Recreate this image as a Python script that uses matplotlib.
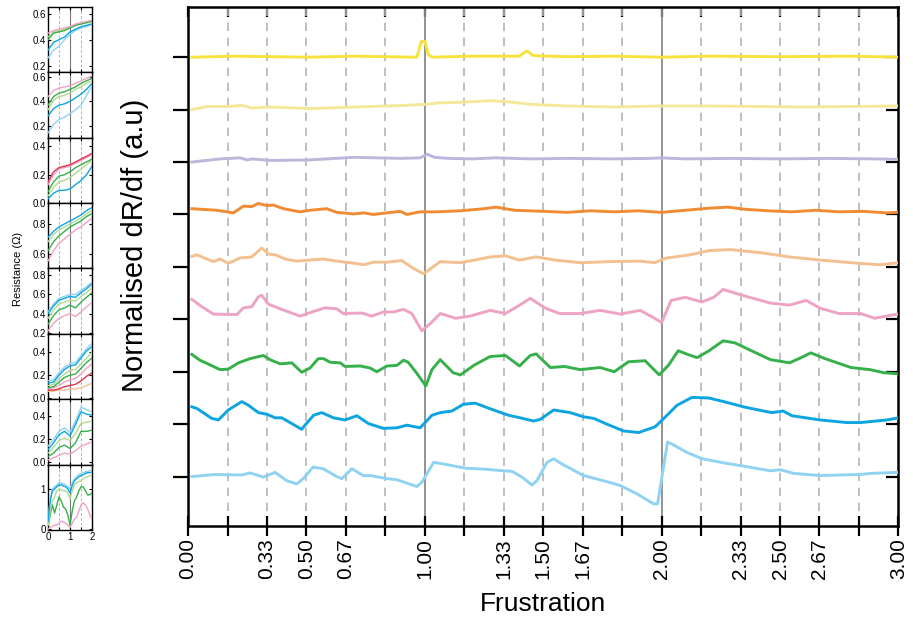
import matplotlib
matplotlib.use("Agg")
import matplotlib.pyplot as plt
import numpy as np

plt.rcParams['font.family'] = ['Liberation Sans', 'DejaVu Sans']

# ---- main panel data: (frustration, offset) keypoints, bottom trace first ----
lblue_f = [0.016, 0.114, 0.227, 0.262, 0.317, 0.368, 0.417, 0.459, 0.486, 0.528, 0.57, 0.628, 0.649, 0.692,
           0.739, 0.769, 0.84, 0.882, 0.966, 0.987, 1.037, 1.079, 1.17, 1.255, 1.332, 1.368, 1.41, 1.452, 1.473,
           1.516, 1.544, 1.579, 1.67, 1.755, 1.825, 1.896, 1.966, 1.983, 2.025, 2.044, 2.107, 2.171, 2.276,
           2.332, 2.459, 2.501, 2.558, 2.67, 2.839, 2.882, 3.0]
lblue_v = [0, 0.04, 0.03, 0.07, -0.01, 0.08, -0.08, -0.14, -0.04, 0.18, 0.15, 0, -0.04, 0.15,
           0.02, 0.02, -0.04, -0.06, -0.19, -0.11, 0.27, 0.24, 0.16, 0.14, 0.11, 0.10, -0.01, -0.16, -0.08,
           0.27, 0.34, 0.24, 0.02, -0.08, -0.17, -0.33, -0.52, -0.52, 0.66, 0.62, 0.46, 0.34, 0.25,
           0.21, 0.11, 0.13, 0.06, 0.02, 0.04, 0.06, 0.08]

blue_f = [0.016, 0.037, 0.1, 0.128, 0.17, 0.227, 0.255, 0.297, 0.332, 0.368, 0.396, 0.431, 0.48, 0.494, 0.53,
          0.565, 0.614, 0.663, 0.713, 0.762, 0.825, 0.882, 0.924, 0.98, 1.03, 1.065, 1.114, 1.163, 1.213, 1.29,
          1.353, 1.403, 1.459, 1.487, 1.544, 1.614, 1.67, 1.713, 1.769, 1.839, 1.903, 1.973, 2.023, 2.065,
          2.128, 2.198, 2.262, 2.346, 2.431, 2.466, 2.513, 2.551, 2.67, 2.783, 2.839, 2.952, 3.0]
blue_v = [0.33, 0.30, 0.11, 0.08, 0.27, 0.43, 0.36, 0.22, 0.19, 0.12, 0.12, 0.03, -0.10, -0.02, 0.17,
          0.22, 0.12, 0.08, 0.16, 0.01, -0.08, -0.07, -0.02, -0.07, 0.17, 0.22, 0.25, 0.38, 0.40, 0.27,
          0.17, 0.12, 0.06, 0.09, 0.27, 0.22, 0.14, 0.11, 0.0, -0.13, -0.16, -0.05, 0.17, 0.36,
          0.51, 0.50, 0.43, 0.33, 0.25, 0.22, 0.25, 0.16, 0.08, 0.03, 0.03, 0.08, 0.12]

green_f = [0.016, 0.05, 0.093, 0.135, 0.17, 0.213, 0.262, 0.318, 0.346, 0.389, 0.438, 0.48, 0.515, 0.55,
           0.572, 0.6, 0.642, 0.663, 0.727, 0.769, 0.797, 0.84, 0.882, 0.91, 0.93, 0.966, 1.004, 1.03, 1.065,
           1.12, 1.15, 1.21, 1.276, 1.34, 1.40, 1.445, 1.47, 1.53, 1.59, 1.656, 1.74, 1.8, 1.86, 1.93, 1.99,
           2.03, 2.07, 2.11, 2.15, 2.2, 2.26, 2.31, 2.37, 2.46, 2.54, 2.59, 2.63, 2.69, 2.8, 2.88, 2.94, 3.0]
green_v = [0.33, 0.22, 0.13, 0.04, 0.05, 0.17, 0.25, 0.31, 0.23, 0.15, 0.17, -0.01, 0.07, 0.25,
           0.25, 0.18, 0.17, 0.10, 0.11, 0.07, 0.0, 0.11, 0.12, 0.22, 0.18, -0.03, -0.27, 0.04, 0.23,
           -0.02, -0.06, 0.13, 0.29, 0.31, 0.11, 0.31, 0.34, 0.08, 0.10, 0.04, 0.08, 0.0, 0.19, 0.21, -0.06,
           0.13, 0.40, 0.33, 0.27, 0.40, 0.59, 0.55, 0.42, 0.23, 0.17, 0.27, 0.36, 0.25, 0.08, 0.04, -0.02, -0.04]

pink_f = [0.016, 0.058, 0.107, 0.206, 0.234, 0.269, 0.297, 0.311, 0.339, 0.389, 0.473, 0.53, 0.579, 0.628,
          0.656, 0.734, 0.776, 0.825, 0.868, 0.91, 0.945, 0.987, 1.023, 1.065, 1.13, 1.19, 1.276, 1.34, 1.40,
          1.445, 1.51, 1.57, 1.656, 1.74, 1.825, 1.91, 1.97, 2.0, 2.04, 2.1, 2.17, 2.22, 2.26, 2.31, 2.37,
          2.46, 2.54, 2.61, 2.67, 2.75, 2.84, 2.9, 2.97, 3.0]
pink_v = [0.38, 0.24, 0.10, 0.09, 0.22, 0.24, 0.43, 0.46, 0.29, 0.20, 0.06, 0.15, 0.22, 0.20,
          0.11, 0.12, 0.06, 0.14, 0.14, 0.19, 0.11, -0.22, -0.08, 0.11, 0.02, 0.06, 0.17, 0.11, 0.27,
          0.40, 0.21, 0.11, 0.11, 0.17, 0.10, 0.17, 0.02, -0.06, 0.36, 0.42, 0.33, 0.42, 0.57, 0.50, 0.42,
          0.31, 0.27, 0.36, 0.21, 0.11, 0.11, 0.02, 0.08, 0.10]

peach_f = [0.016, 0.037, 0.107, 0.135, 0.17, 0.22, 0.269, 0.311, 0.339, 0.375, 0.41, 0.459, 0.515, 0.572,
           0.628, 0.685, 0.741, 0.783, 0.84, 0.903, 0.952, 0.994, 1.023, 1.065, 1.15, 1.21, 1.276, 1.34, 1.40,
           1.47, 1.55, 1.656, 1.78, 1.91, 1.97, 2.02, 2.12, 2.2, 2.29, 2.42, 2.54, 2.67, 2.8, 2.92, 3.0]
peach_v = [0.20, 0.23, 0.10, 0.15, 0.07, 0.17, 0.19, 0.36, 0.25, 0.22, 0.15, 0.11, 0.13, 0.15,
           0.11, 0.08, 0.04, 0.09, 0.09, 0.12, -0.03, -0.13, -0.04, 0.10, 0.08, 0.13, 0.19, 0.21, 0.13,
           0.19, 0.13, 0.08, 0.10, 0.11, 0.08, 0.17, 0.23, 0.31, 0.33, 0.27, 0.19, 0.13, 0.08, 0.04, 0.08]

orange_f = [0.016, 0.121, 0.191, 0.234, 0.269, 0.297, 0.332, 0.36, 0.403, 0.473, 0.515, 0.586, 0.628, 0.699,
            0.741, 0.783, 0.896, 0.924, 0.98, 1.05, 1.15, 1.25, 1.3, 1.38, 1.5, 1.6, 1.7, 1.8, 1.9, 2.0,
            2.1, 2.2, 2.28, 2.35, 2.45, 2.55, 2.65, 2.75, 2.85, 2.95, 3.0]
orange_v = [0.11, 0.08, 0.03, 0.16, 0.15, 0.21, 0.17, 0.18, 0.11, 0.05, 0.08, 0.11, 0.04, 0.01,
            0.03, 0.0, 0.06, 0.0, 0.05, 0.05, 0.07, 0.11, 0.14, 0.08, 0.06, 0.04, 0.07, 0.05, 0.07, 0.04,
            0.08, 0.12, 0.14, 0.10, 0.07, 0.05, 0.08, 0.05, 0.06, 0.03, 0.04]

lav_f = [0.016, 0.135, 0.22, 0.25, 0.27, 0.347, 0.51, 0.7, 0.9, 0.98, 1.01, 1.04, 1.1, 1.2, 1.3, 1.45, 1.6,
         1.8, 1.95, 2.0, 2.1, 2.3, 2.5, 2.7, 2.9, 3.0]
lav_v = [0, 0.06, 0.08, 0.04, 0.06, 0.03, 0.04, 0.09, 0.07, 0.08, 0.15, 0.09, 0.07, 0.06, 0.08, 0.06, 0.07,
         0.06, 0.07, 0.08, 0.06, 0.07, 0.06, 0.07, 0.06, 0.05]

lyel_f = [0.016, 0.08, 0.17, 0.227, 0.27, 0.347, 0.517, 0.7, 0.91, 1.0, 1.06, 1.15, 1.28, 1.35, 1.45, 1.6,
          1.8, 2.0, 2.2, 2.4, 2.6, 2.8, 3.0]
lyel_v = [0, 0.06, 0.06, 0.08, 0.03, 0.05, 0.02, 0.05, 0.08, 0.10, 0.13, 0.14, 0.17, 0.15, 0.10, 0.07,
          0.05, 0.07, 0.07, 0.06, 0.05, 0.06, 0.07]

yel_f = [0.016, 0.2, 0.51, 0.7, 0.966, 0.985, 1.0, 1.015, 1.03, 1.2, 1.4, 1.43, 1.46, 1.6, 1.8, 2.0, 2.2,
         2.5, 2.8, 3.0]
yel_v = [0, 0.02, 0, 0.02, 0, 0.3, 0.3, 0.05, 0.0, 0.02, 0.02, 0.12, 0.03, 0.01, 0.02, 0.0, 0.02,
         0.01, 0.02, 0.0]

main_traces = [(lblue_f, lblue_v), (blue_f, blue_v), (green_f, green_v), (pink_f, pink_v),
               (peach_f, peach_v), (orange_f, orange_v), (lav_f, lav_v), (lyel_f, lyel_v), (yel_f, yel_v)]

C = {'lblue': '#8fd2f2', 'blue': '#0ca4e1', 'lgreen': '#b3d993', 'green': '#35b04a', 'pink': '#eea3c4',
     'red': '#e3334f', 'peach': '#f3c08f', 'orange': '#f18b32', 'lav': '#bbb7dc', 'lyel': '#f4e898',
     'yel': '#f8e23c'}
main_colors = ['lblue', 'blue', 'green', 'pink', 'peach', 'orange', 'lav', 'lyel', 'yel']

tick_labels = {0: '0.00', 2: '0.33', 3: '0.50', 4: '0.67', 6: '1.00', 8: '1.33', 9: '1.50', 10: '1.67',
               12: '2.00', 14: '2.33', 15: '2.50', 16: '2.67', 18: '3.00'}

# ---- small resistance panels (x = 0..2), top panel first ----
xs = [0, 0.25, 0.5, 0.75, 1.0, 1.25, 1.5, 1.75, 2.0]
x8 = [0, .1, .2, .3, .4, .5, .6, .7, .8, .9, 1.0, 1.1, 1.2, 1.3, 1.4, 1.5, 1.6, 1.7, 1.8, 1.9, 2.0]

panels = [
    {'ylim': (0.15, 0.65), 'yt': [0.2, 0.4, 0.6], 'x': xs, 'curves': [
        ('lblue', [.26, .32, .35, .40, .44, .47, .49, .50, .52]),
        ('blue', [.32, .38, .40, .42, .46, .48, .50, .51, .52]),
        ('lgreen', [.42, .46, .47, .48, .495, .51, .52, .53, .545]),
        ('green', [.40, .45, .46, .47, .49, .51, .52, .53, .54]),
        ('pink', [.45, .47, .48, .49, .50, .52, .53, .54, .55])]},
    {'ylim': (0.10, 0.64), 'yt': [0.2, 0.4, 0.6], 'x': xs, 'curves': [
        ('lblue', [.14, .21, .25, .27, .30, .33, .37, .45, .53]),
        ('blue', [.28, .34, .37, .38, .40, .43, .46, .50, .55]),
        ('lgreen', [.33, .41, .44, .45, .47, .50, .52, .55, .57]),
        ('green', [.37, .44, .47, .48, .50, .52, .55, .57, .59]),
        ('pink', [.44, .49, .51, .52, .53, .55, .57, .59, .61])]},
    {'ylim': (0.0, 0.46), 'yt': [0.0, 0.2, 0.4], 'x': xs, 'curves': [
        ('blue', [.03, .07, .09, .09, .10, .13, .16, .20, .26]),
        ('lgreen', [.05, .11, .15, .16, .18, .21, .24, .27, .30]),
        ('green', [.08, .15, .19, .20, .22, .25, .27, .29, .31]),
        ('pink', [.13, .20, .24, .25, .26, .28, .30, .32, .34]),
        ('red', [.15, .22, .25, .26, .27, .29, .31, .33, .35])]},
    {'ylim': (0.50, 0.94), 'yt': [0.6, 0.8], 'x': xs, 'curves': [
        ('pink', [.55, .62, .67, .70, .73, .76, .78, .81, .84]),
        ('green', [.62, .68, .72, .75, .78, .80, .82, .85, .87]),
        ('lgreen', [.68, .73, .76, .78, .80, .82, .84, .87, .89]),
        ('blue', [.71, .75, .78, .80, .82, .84, .86, .89, .91])]},
    {'ylim': (0.19, 0.87), 'yt': [0.2, 0.4, 0.6, 0.8], 'x': xs, 'curves': [
        ('pink', [.22, .30, .35, .38, .40, .37, .42, .47, .52]),
        ('green', [.29, .38, .44, .46, .49, .46, .52, .57, .62]),
        ('lgreen', [.35, .44, .50, .52, .54, .53, .58, .62, .67]),
        ('lblue', [.42, .50, .56, .58, .60, .60, .64, .68, .73]),
        ('blue', [.40, .48, .54, .56, .58, .57, .62, .66, .71])]},
    {'ylim': (-0.01, 0.56), 'yt': [0.0, 0.2, 0.4], 'x': xs, 'curves': [
        ('peach', [.06, .06, .07, .07, .08, .08, .09, .11, .13]),
        ('red', [.07, .07, .08, .10, .11, .12, .15, .19, .22]),
        ('pink', [.08, .09, .11, .14, .16, .17, .21, .26, .30]),
        ('green', [.09, .10, .14, .18, .20, .21, .26, .31, .35]),
        ('lgreen', [.11, .12, .17, .21, .24, .25, .30, .35, .40]),
        ('lblue', [.15, .16, .22, .27, .30, .31, .37, .43, .48]),
        ('blue', [.13, .14, .20, .25, .28, .29, .35, .41, .45])]},
    {'ylim': (-0.02, 0.55), 'yt': [0.0, 0.2, 0.4], 'x': xs, 'curves': [
        ('pink', [.02, .04, .06, .08, .07, .10, .14, .16, .18]),
        ('green', [.05, .08, .13, .15, .12, .17, .27, .27, .28]),
        ('lgreen', [.08, .13, .19, .21, .19, .25, .34, .35, .36]),
        ('lblue', [.14, .20, .27, .30, .26, .36, .48, .46, .44]),
        ('blue', [.11, .17, .24, .27, .23, .33, .44, .42, .41])]},
    {'ylim': (-0.02, 1.6), 'yt': [0, 1], 'x': x8, 'curves': [
        ('pink', [0, .05, .07, .1, .1, .15, .2, .18, .15, .1, .05, .15, .25, .3, .45, .6, .65, .6, .5, .35, .25]),
        ('green', [.1, .35, .6, .4, .6, .8, .7, .55, .5, .35, .1, .45, .7, .8, .95, 1.05, 1.05, .95, .85, .85, .9]),
        ('lgreen', [.1, .45, .7, .8, .95, 1.0, .98, .95, .95, .9, .75, .95, 1.1, 1.15, 1.18, 1.2, 1.25, 1.28, 1.3,
                    1.32, 1.35]),
        ('lblue', [.25, .75, 1.0, 1.05, 1.1, 1.15, 1.15, 1.12, 1.1, 1.05, 1.0, 1.15, 1.25, 1.3, 1.35, 1.38, 1.4,
                   1.42, 1.43, 1.45, 1.47]),
        ('blue', [.2, .7, .95, 1.0, 1.05, 1.1, 1.1, 1.07, 1.05, 1.0, .9, 1.08, 1.2, 1.25, 1.3, 1.33, 1.35, 1.38,
                  1.4, 1.4, 1.42])]},
]

fig = plt.figure(figsize=(9.13, 6.26), dpi=100)

# ---- main axes ----
ax = fig.add_axes([0.206, 0.16, 0.778, 0.829])
sixths = np.arange(19) / 6.0
for k, xv in enumerate(sixths):
    if k in (0, 18):
        continue
    if k in (6, 12):
        ax.axvline(xv, color='#8a8a8a', lw=1.3, zorder=1)
    else:
        ax.axvline(xv, color='#b4b4b4', lw=1.2, ls=(0, (5, 4)), zorder=1)

for i, ((fx, fv), cname) in enumerate(zip(main_traces, main_colors)):
    ax.plot(fx, np.array(fv) + i, color=C[cname], lw=2.1, zorder=3, solid_joinstyle='round')

ax.set_xlim(0, 3)
ax.set_ylim(-0.94, 8.96)
ax.set_xticks(sixths)
ax.set_xticklabels([tick_labels.get(k, '') for k in range(19)], rotation=90, fontsize=15)
ax.tick_params(axis='x', direction='inout', length=14, width=1.6, pad=2)
ax.set_yticks(range(9))
ax.set_yticklabels([])
ax.tick_params(axis='y', direction='out', length=11, width=1.6)
for sp in ax.spines.values():
    sp.set_linewidth(1.8)
ax.set_xlabel('Frustration', fontsize=19, labelpad=9)
ax.set_ylabel('Normalised dR/df (a.u)', fontsize=21)
ax.yaxis.set_label_coords(-0.055, 0.54)

top = ax.secondary_xaxis('top')
top.set_xticks(sixths)
top.set_xticklabels([])
top.tick_params(direction='in', length=7, width=1.6)
right = ax.secondary_yaxis('right')
right.set_yticks(range(9))
right.set_yticklabels([])
right.tick_params(direction='in', length=9, width=1.6)

# ---- small panels ----
n = len(panels)
bottom, top_f = 0.1534, 0.9888
h = (top_f - bottom) / n
for j, p in enumerate(panels):
    a = fig.add_axes([0.0526, top_f - (j + 1) * h, 0.0482, h])
    for xv in (0.5, 1.5):
        a.axvline(xv, color='#b4b4b4', lw=0.7, ls=(0, (3, 2)), zorder=1)
    a.axvline(1.0, color='#777777', lw=0.8, zorder=1)
    for cname, vals in p['curves']:
        a.plot(p['x'], vals, color=C[cname], lw=1.0, zorder=3)
    a.set_xlim(0, 2)
    a.set_ylim(*p['ylim'])
    a.set_xticks([0, 0.5, 1, 1.5, 2])
    a.set_yticks(p['yt'])
    a.set_yticklabels([('%g' % v if v in (0, 1) and j == n - 1 else '%.1f' % v) for v in p['yt']], fontsize=7)
    if j == n - 1:
        a.set_xticklabels(['0', '', '1', '', '2'], fontsize=7)
    else:
        a.set_xticklabels([])
    a.tick_params(direction='in', length=2.5, width=0.8, top=True, right=True, pad=1.5)
    for sp in a.spines.values():
        sp.set_linewidth(1.0)

fig.text(0.02, 0.57, 'Resistance (\u03a9)', rotation=90, fontsize=8, ha='center', va='center')

fig.savefig('out.png', dpi=100)
